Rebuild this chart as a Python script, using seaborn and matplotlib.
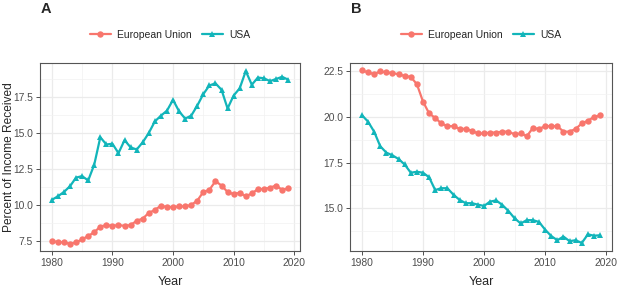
import matplotlib
matplotlib.use("Agg")
import matplotlib.pyplot as plt
import seaborn as sns
import pandas as pd
import numpy as np
from matplotlib.ticker import MultipleLocator

years = list(range(1980, 2020))

eu_a = [7.5, 7.42, 7.4, 7.3, 7.4, 7.6, 7.85, 8.1, 8.5, 8.6,
        8.55, 8.6, 8.55, 8.6, 8.9, 9.05, 9.45, 9.65, 9.95, 9.85,
        9.85, 9.9, 9.9, 10.0, 10.3, 10.9, 11.05, 11.65, 11.35, 10.9,
        10.75, 10.85, 10.6, 10.8, 11.1, 11.1, 11.2, 11.35, 11.05, 11.15]
usa_a = [10.35, 10.6, 10.9, 11.3, 11.9, 12.0, 11.7, 12.8, 14.7, 14.2,
         14.25, 13.6, 14.5, 14.0, 13.85, 14.35, 15.0, 15.8, 16.2, 16.55,
         17.3, 16.5, 16.0, 16.2, 16.9, 17.7, 18.3, 18.45, 18.0, 16.7,
         17.6, 18.1, 19.3, 18.35, 18.85, 18.8, 18.6, 18.75, 18.9, 18.7]

eu_b = [22.55, 22.45, 22.35, 22.5, 22.45, 22.4, 22.35, 22.25, 22.2, 21.8,
        20.85, 20.2, 19.95, 19.65, 19.5, 19.5, 19.35, 19.35, 19.25, 19.1,
        19.1, 19.15, 19.15, 19.2, 19.2, 19.05, 19.1, 18.95, 19.4, 19.35,
        19.5, 19.5, 19.5, 19.2, 19.2, 19.35, 19.65, 19.8, 20.0, 20.1]
usa_b = [20.1, 19.75, 19.2, 18.4, 18.05, 17.9, 17.7, 17.4, 16.95, 17.0,
         16.95, 16.7, 16.0, 16.1, 16.1, 15.74, 15.46, 15.28, 15.28, 15.2,
         15.13, 15.37, 15.43, 15.18, 14.85, 14.45, 14.17, 14.35, 14.35, 14.25,
         13.83, 13.48, 13.25, 13.45, 13.2, 13.25, 13.1, 13.57, 13.5, 13.52]

regions = ["European Union", "USA"]
palette = {"European Union": "#F8766D", "USA": "#12B5BA"}
markers = {"European Union": "o", "USA": "^"}

def make_df(eu, usa):
    return pd.DataFrame({
        "Year": years + years,
        "Value": eu + usa,
        "Region": ["European Union"] * len(years) + ["USA"] * len(years),
    })

sns.set_theme(style="white")
plt.rcParams['font.family'] = ['Liberation Sans', 'DejaVu Sans']

fig = plt.figure(figsize=(6.17, 2.92), dpi=100)
W, H = 617, 292
axA = fig.add_axes([40 / W, (H - 251) / H, 260 / W, 188 / H])
axB = fig.add_axes([350 / W, (H - 251) / H, 262 / W, 188 / H])

panels = [(axA, make_df(eu_a, usa_a), (6.8, 19.86), "A"),
          (axB, make_df(eu_b, usa_b), (12.66, 22.96), "B")]

for ax, df, ylim, lab in panels:
    sns.lineplot(data=df, x="Year", y="Value", hue="Region", style="Region",
                 hue_order=regions, style_order=regions,
                 palette=palette, markers=markers, dashes=False,
                 markersize=4.6, markeredgewidth=0, linewidth=1.6, ax=ax)
    ax.set_xlim(1978.05, 2020.95)
    ax.set_ylim(*ylim)
    ax.xaxis.set_major_locator(MultipleLocator(10))
    ax.xaxis.set_minor_locator(MultipleLocator(5))
    ax.yaxis.set_major_locator(MultipleLocator(2.5))
    ax.yaxis.set_minor_locator(MultipleLocator(1.25))
    ax.yaxis.set_major_formatter(matplotlib.ticker.FormatStrFormatter('%.1f'))
    ax.grid(which='major', color='#EBEBEB', linewidth=0.9)
    ax.grid(which='minor', color='#F2F2F2', linewidth=0.5)
    ax.set_axisbelow(True)
    for s in ax.spines.values():
        s.set_color('#555555')
        s.set_linewidth(0.8)
    ax.tick_params(axis='both', which='major', direction='out', length=3,
                   width=0.6, color='#333333', labelsize=7.4,
                   labelcolor='#4D4D4D', bottom=True, left=True, pad=2)
    ax.tick_params(axis='both', which='minor', length=0)
    ax.set_xlabel("Year", fontsize=9)
    ax.xaxis.set_label_coords(0.5, -(282 - 251) / 188)
    ax.xaxis.label.set_va('center')
    handles, labels = ax.get_legend_handles_labels()
    ax.get_legend().remove()
    ax.legend(handles, labels, loc='center', bbox_to_anchor=(0.5, (H - 35 - (H - 251)) / 188),
              ncol=2, frameon=False, fontsize=7.5, handlelength=2.0,
              columnspacing=1.0, handletextpad=0.6)
    x0 = ax.get_position().x0
    fig.text(x0 + 0.5 / W, 1 - 9 / H, lab, fontsize=10.5, fontweight='bold',
             ha='left', va='center')

axA.set_ylabel("Percent of Income Received", fontsize=8.6)
axA.yaxis.set_label_coords(-(40 - 9) / 260, 0.5)
axA.yaxis.label.set_va('center')
axB.set_ylabel("")

fig.savefig("out.png", dpi=100)
